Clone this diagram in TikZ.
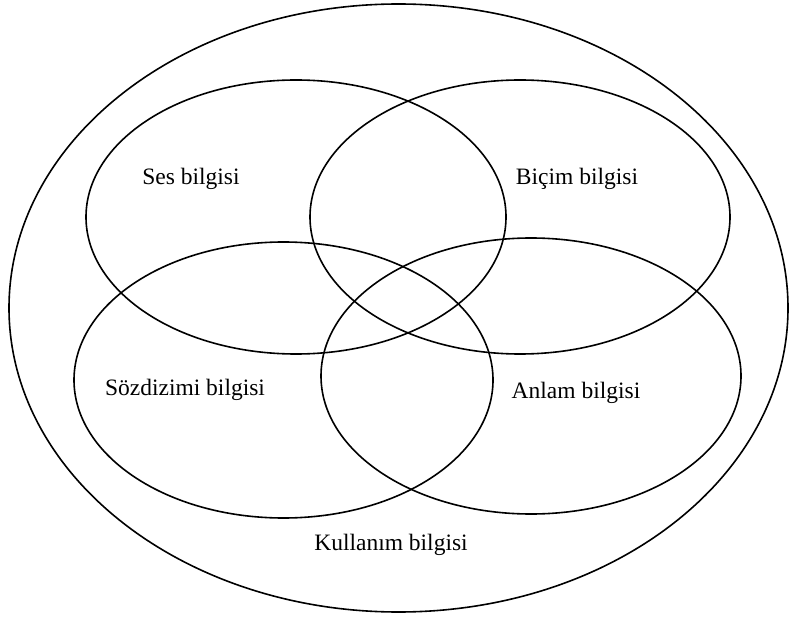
\documentclass[tikz,border=0pt]{standalone}
\usepackage{fontspec}
\setmainfont{Liberation Serif}
\usepackage{tikz}
\usetikzlibrary{shapes.geometric}

\begin{document}
\begin{tikzpicture}[
    x=1pt, y=-1pt,
    area/.style={ellipse, draw=black, line width=1.6pt, inner sep=0pt, outer sep=0pt},
    lbl/.style={font=\fontsize{23.5}{28}\selectfont, inner sep=0pt}
]
\useasboundingbox (0,0) rectangle (789,617);

% outer field
\node[area, minimum width=779, minimum height=608] (kullanim) at (398.5,308) {};

% four overlapping fields
\node[area, minimum width=420, minimum height=274] (ses) at (296,217) {};
\node[area, minimum width=420, minimum height=274] (bicim) at (520,217) {};
\node[area, minimum width=419, minimum height=276] (sozdizimi) at (283.5,380) {};
\node[area, minimum width=420, minimum height=276] (anlam) at (531,376) {};

% labels
\node[lbl] (seslbl) at (191,179) {Ses bilgisi};
\node[lbl] (bicimlbl) at (577,179) {Biçim bilgisi};
\node[lbl] (sozlbl) at (185,390) {Sözdizimi bilgisi};
\node[lbl] (anlamlbl) at (576,393) {Anlam bilgisi};
\node[lbl] (kullanimlbl) at (391,545) {Kullanım bilgisi};
\end{tikzpicture}
\end{document}
